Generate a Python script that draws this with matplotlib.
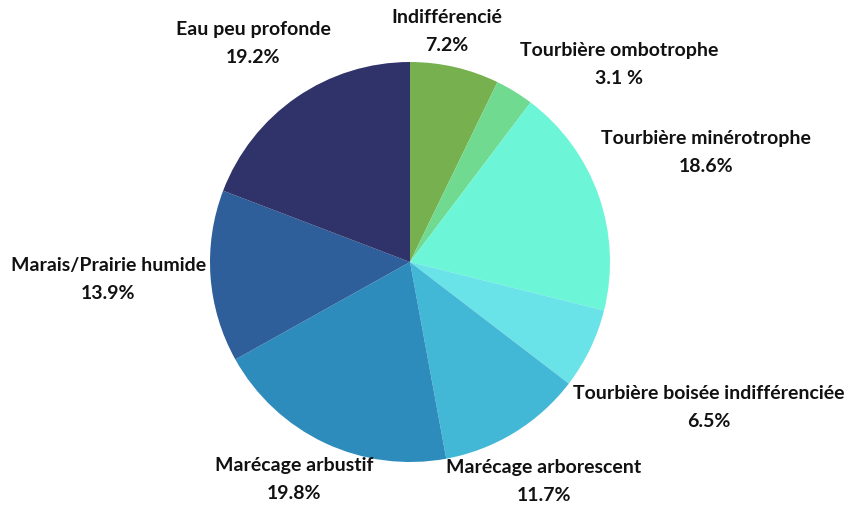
import numpy as np
import matplotlib
matplotlib.use("Agg")
import matplotlib.pyplot as plt

plt.rcParams["font.family"] = ["Lato", "DejaVu Sans"]

labels = [
    "Indifférencié",
    "Tourbière ombotrophe",
    "Tourbière minérotrophe",
    "Tourbière boisée indifférenciée",
    "Marécage arborescent",
    "Marécage arbustif",
    "Marais/Prairie humide",
    "Eau peu profonde",
]
values = [7.2, 3.1, 18.6, 6.5, 11.7, 19.8, 13.9, 19.2]
pct_text = ["7.2%", "3.1 %", "18.6%", "6.5%", "11.7%", "19.8%", "13.9%", "19.2%"]
colors = ["#76b04f", "#70da91", "#6cf5d6", "#6ae3e8", "#42b8d6", "#2e8cbd", "#2e5f9a", "#2f3369"]

# label placement: distance (in radii) and angle tweak (deg)
label_dist = [1.17, 1.44, 1.58, 1.66, 1.28, 1.23, 1.51, 1.35]
label_tweak = [-4, 15, -1, 0, 0, 3, 1, -1]

fig = plt.figure(figsize=(8.46, 5.10), dpi=100)
ax = fig.add_axes([0, 0, 1, 1])
cx, cy, r = 410, 247, 200
wedges, _ = ax.pie(values, colors=colors, startangle=90, counterclock=False,
                   radius=r, center=(cx, cy), frame=True,
                   wedgeprops=dict(linewidth=0))

total = sum(values)
cum = np.cumsum([0] + values)
for i, lab in enumerate(labels):
    mid = (cum[i] + values[i] / 2) / total * 360 + label_tweak[i]
    ang = np.deg2rad(90 - mid)
    x = cx + label_dist[i] * r * np.cos(ang)
    y = cy + label_dist[i] * r * np.sin(ang)
    ax.text(x, y, lab + "\n" + pct_text[i], ha="center", va="center",
            fontsize=14, fontweight="bold", color="#111111", linespacing=1.8)

ax.set_xlim(0, 846)
ax.set_ylim(0, 510)
ax.set_aspect("equal")
ax.axis("off")
fig.savefig("out.png", dpi=100)
